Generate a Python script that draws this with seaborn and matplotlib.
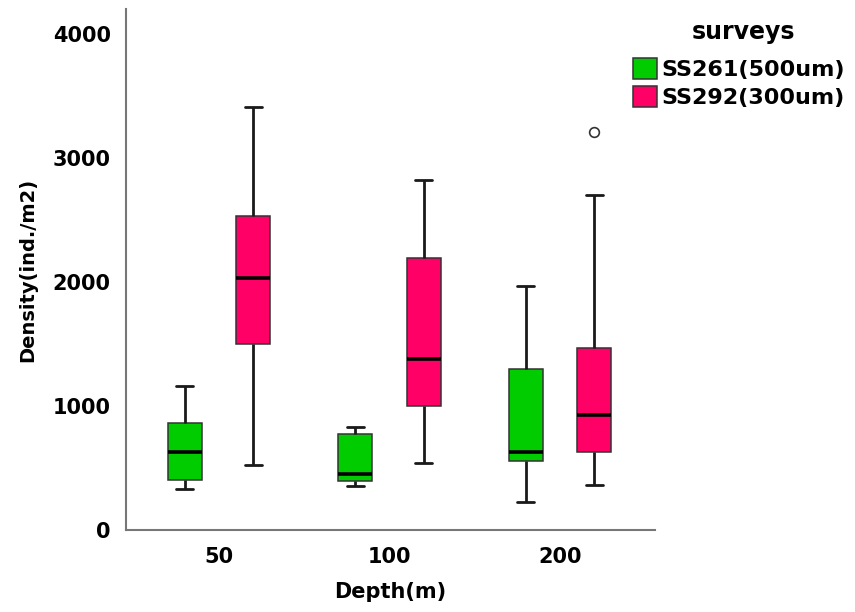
import numpy as np
import pandas as pd
import matplotlib
matplotlib.use("Agg")
import matplotlib.pyplot as plt
import seaborn as sns

# ---- data ----
depths = ["50", "100", "200"]
surveys = ["SS261(500um)", "SS292(300um)"]
# five-number summaries (lower whisker, Q1, median, Q3, upper whisker)
ss261_stats = {
    "50":  [331, 406, 627, 860, 1164],
    "100": [357, 395, 454, 774, 828],
    "200": [226, 556, 626, 1301, 1968],
}
ss292_stats = {
    "50":  [522, 1497, 2035, 2532, 3411],
    "100": [540, 1003, 1377, 2194, 2823],
    "200": [360, 629, 927, 1468, 2699],
}
outlier_depth = ["200"]
outlier_survey = ["SS292(300um)"]
outlier_value = [3210]

colors = ["#00cc00", "#ff0066"]

rows = []
for d in depths:
    for v in ss261_stats[d]:
        rows.append((d, surveys[0], v))
    for v in ss292_stats[d]:
        rows.append((d, surveys[1], v))
df = pd.DataFrame(rows, columns=["Depth", "survey", "Density"])
out_df = pd.DataFrame({"Depth": outlier_depth, "survey": outlier_survey,
                       "Density": outlier_value})

sns.set_style("white")
plt.rcParams["font.family"] = ["DejaVu Sans"]
plt.rcParams["font.weight"] = "bold"
plt.rcParams["text.color"] = "black"
plt.rcParams["axes.labelcolor"] = "black"
plt.rcParams["xtick.labelcolor"] = "black"
plt.rcParams["ytick.labelcolor"] = "black"

W, H = 855, 612
fig = plt.figure(figsize=(W / 100, H / 100), dpi=100)
ax = fig.add_axes([126 / W, 1 - 530 / H, (655 - 126) / W, (530 - 9) / H])

sns.boxplot(data=df, x="Depth", y="Density", hue="survey",
            order=depths, hue_order=surveys, palette=colors,
            width=0.8, gap=0.5, whis=1.5, saturation=1, ax=ax,
            linecolor="#333333", linewidth=1.1,
            medianprops=dict(color="black", linewidth=2.6),
            whiskerprops=dict(color="#1a1a1a", linewidth=2),
            capprops=dict(color="#1a1a1a", linewidth=2),
            showfliers=False)
sns.stripplot(data=out_df, x="Depth", y="Density", hue="survey",
              order=depths, hue_order=surveys, dodge=True, jitter=False,
              palette=["white", "white"], edgecolor="#333333", linewidth=1.2,
              size=7, ax=ax, legend=False)

ax.set_xlim(-0.545, 2.557)
ax.set_ylim(0, 4200)
ax.set_yticks([0, 1000, 2000, 3000, 4000])
for s in ["top", "right"]:
    ax.spines[s].set_visible(False)
for s in ["left", "bottom"]:
    ax.spines[s].set_color("#777777")
    ax.spines[s].set_linewidth(1.5)
ax.tick_params(axis="y", length=9, width=1.5, color="#777777", labelsize=15, pad=2)
ax.tick_params(axis="x", length=7, width=1.5, color="#777777", labelsize=15, pad=5)
for lbl in ax.get_xticklabels() + ax.get_yticklabels():
    lbl.set_fontweight("bold")
ax.set_xlabel("Depth(m)", fontsize=15, fontweight="bold", labelpad=11)
ax.set_ylabel("Density(ind./m2)", fontsize=14, fontweight="bold", labelpad=11)

handles, labels = ax.get_legend_handles_labels()
ax.get_legend().remove()
fig.text(743 / W, 1 - 32 / H, "surveys", ha="center", va="center",
         fontsize=17, fontweight="bold")
leg = fig.legend(handles[:2], labels[:2], loc="upper left",
                 bbox_to_anchor=(624 / W, 1 - 49 / H), frameon=False,
                 prop=dict(size=16, weight="bold"),
                 handlelength=1.1, handleheight=1.1, handletextpad=0.2,
                 labelspacing=0.27, borderaxespad=0, borderpad=0.4)
for h in leg.legend_handles:
    h.set_edgecolor("#333333")

fig.savefig("out.png", dpi=100)
